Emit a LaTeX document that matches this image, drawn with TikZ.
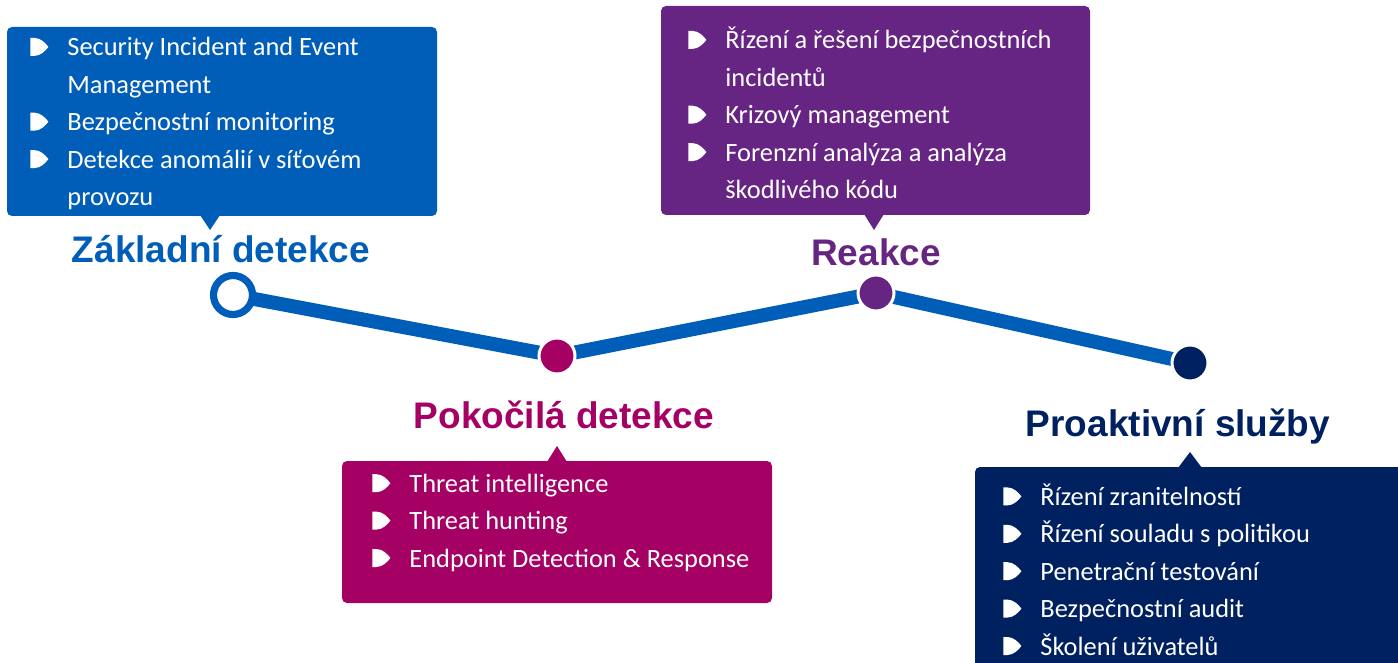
\documentclass[tikz,border=0pt]{standalone}
\usepackage{fontspec}
\setmainfont{Carlito}
\newfontfamily\headfont{Liberation Sans}
\usepackage{tikz}
\usetikzlibrary{positioning,backgrounds}

\definecolor{zblue}{RGB}{0,94,184}
\definecolor{rpurple}{RGB}{102,36,131}
\definecolor{pmagenta}{RGB}{165,0,100}
\definecolor{snavy}{RGB}{0,33,96}

\newcommand{\bul}{\tikz[x=1pt,y=1pt,baseline=0pt]\fill[white] (0,0) -- (0,9) -- (2,9)
    .. controls (5,9) and (7.5,6.5) .. (9,4.5) .. controls (7.5,2.5) and (5,0) .. (2,0) -- cycle;}
\newcommand{\itm}[1]{\makebox[18.5pt][l]{\bul}#1}
\newcommand{\cont}[1]{\hspace*{18.5pt}#1}

\begin{document}
\begin{tikzpicture}[x=0.5pt, y=-0.5pt,
    box/.style={rectangle, rounded corners=2.5pt, inner sep=0pt},
    items/.style={anchor=base west, inner sep=0pt, align=left, text=white,
        font=\fontsize{13.2}{18.7}\selectfont},
    head/.style={anchor=base, inner sep=0pt, font=\headfont\bfseries\fontsize{18.5}{22}\selectfont},
    dot/.style={circle, draw=white, line width=1.5pt, minimum size=18pt, inner sep=0pt},
    ring/.style={circle, draw=zblue, fill=white, line width=3.6pt, minimum size=19.5pt, inner sep=0pt},
    track/.style={draw=zblue, line width=7pt}
]
    \useasboundingbox (0,0) rectangle (1398,663);

    \node[box, fill=zblue, minimum width=215pt, minimum height=94.5pt] (zaklbox) at (222,121.5) {};
    \fill[zblue] (200,215) -- (210,230) -- (220,215) -- cycle;
    \node[items] (zaklitems) at (30,205.5) {\itm{Security Incident and Event}\\
        \cont{Management}\\
        \itm{Bezpečnostní monitoring}\\
        \itm{Detekce anomálií v síťovém}\\
        \cont{provozu}};

    \node[box, fill=rpurple, minimum width=214.5pt, minimum height=104.5pt] (reakcebox) at (875.5,110.5) {};
    \fill[rpurple] (864,214) -- (874,230) -- (884,214) -- cycle;
    \node[items] (reakceitems) at (688,198.5) {\itm{Řízení a řešení bezpečnostních}\\
        \cont{incidentů}\\
        \itm{Krizový management}\\
        \itm{Forenzní analýza a analýza}\\
        \cont{škodlivého kódu}};

    \node[box, fill=pmagenta, minimum width=215pt, minimum height=71pt] (pokrbox) at (557,532) {};
    \fill[pmagenta] (547,462) -- (557,446) -- (567,462) -- cycle;
    \node[items] (pokritems) at (372,567) {\itm{Threat intelligence}\\
        \itm{Threat hunting}\\
        \itm{Endpoint Detection \& Response}};

    \node[box, fill=snavy, minimum width=215pt, minimum height=101.5pt] (proaktbox) at (1190,568.5) {};
    \fill[snavy] (1178,468) -- (1190,452) -- (1202,468) -- cycle;
    \node[items] (proaktitems) at (1003,655) {\itm{Řízení zranitelností}\\
        \itm{Řízení souladu s politikou}\\
        \itm{Penetrační testování}\\
        \itm{Bezpečnostní audit}\\
        \itm{Školení uživatelů}};

    \node[head, text=zblue] (zakl) at (221,263) {Základní detekce};
    \node[head, text=rpurple] (reakce) at (876,266) {Reakce};
    \node[head, text=pmagenta] (pokr) at (564,428) {Pokočilá detekce};
    \node[head, text=snavy] (proakt) at (1178,437) {Proaktivní služby};

    \node[ring] (zakldot) at (233,295) {};
    \node[dot, fill=pmagenta] (pokrdot) at (557,356) {};
    \node[dot, fill=rpurple] (reakcedot) at (876,293) {};
    \node[dot, fill=snavy] (proaktdot) at (1190,363) {};

    \begin{scope}[on background layer]
        \path[track] (zakldot.center) -- (pokrdot.center) -- (reakcedot.center) -- (proaktdot.center);
    \end{scope}
\end{tikzpicture}
\end{document}
